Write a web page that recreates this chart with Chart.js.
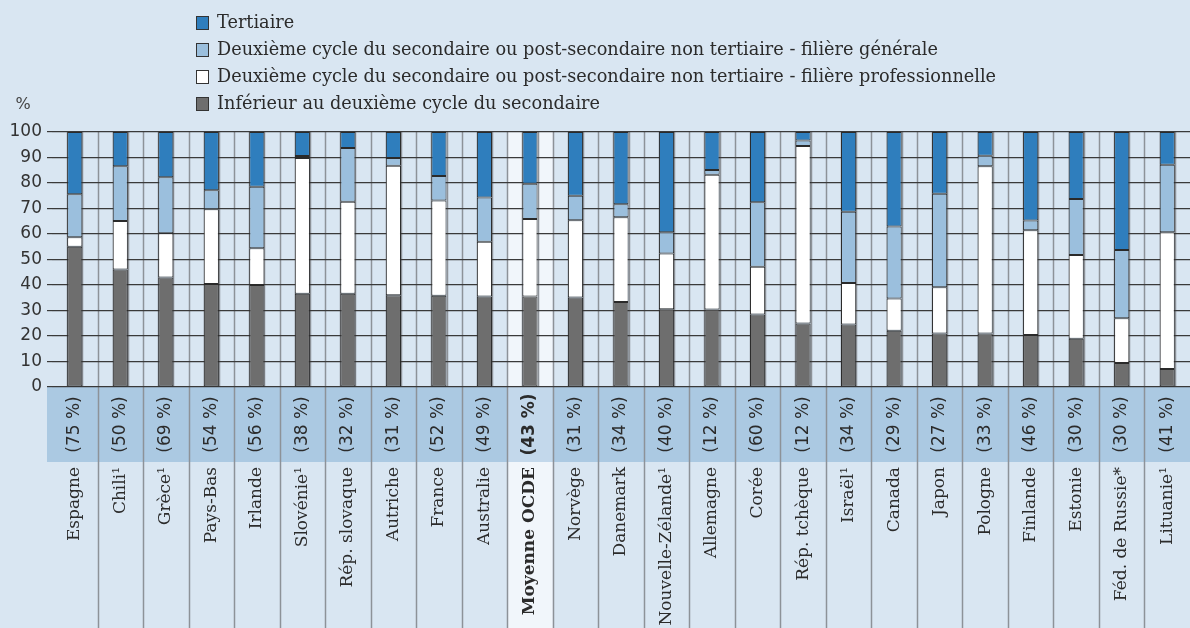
<!DOCTYPE html>
<html lang="fr">
<head>
    <meta charset="UTF-8">
    <title>Niveau de formation</title>
    <script src="https://cdn.jsdelivr.net/npm/chart.js"></script>
    <style>
        html, body {
            margin: 0;
            padding: 0;
            background: #d9e6f2;
        }
        .wrap {
            width: 1190px;
            height: 628px;
        }
    </style>
</head>
<body>
    <div class="wrap">
        <canvas id="chart" width="1190" height="628"></canvas>
    </div>

    <script>
        const countries = ['Espagne', 'Chili¹', 'Grèce¹', 'Pays-Bas', 'Irlande', 'Slovénie¹', 'Rép. slovaque', 'Autriche',
            'France', 'Australie', 'Moyenne OCDE', 'Norvège', 'Danemark', 'Nouvelle-Zélande¹', 'Allemagne', 'Corée',
            'Rép. tchèque', 'Israël¹', 'Canada', 'Japon', 'Pologne', 'Finlande', 'Estonie', 'Féd. de Russie*', 'Lituanie¹'];
        const shares = ['(75 %)', '(50 %)', '(69 %)', '(54 %)', '(56 %)', '(38 %)', '(32 %)', '(31 %)', '(52 %)', '(49 %)',
            '(43 %)', '(31 %)', '(34 %)', '(40 %)', '(12 %)', '(60 %)', '(12 %)', '(34 %)', '(29 %)', '(27 %)', '(33 %)',
            '(46 %)', '(30 %)', '(30 %)', '(41 %)'];

        // segment sizes (stacked, bottom to top)
        const lower = [55.0, 46.1, 42.9, 40.4, 40.0, 36.6, 36.6, 36.0, 35.8, 35.5, 35.5, 35.1, 33.3, 30.5, 30.4, 28.4,
            24.9, 24.5, 22.1, 21.0, 21.0, 20.4, 18.9, 9.4, 7.1];
        const vocational = [3.7, 19.0, 17.4, 29.3, 14.4, 53.2, 36.0, 50.8, 37.3, 21.5, 30.4, 30.3, 33.3, 21.9, 52.8, 18.8,
            69.6, 16.3, 12.6, 18.1, 65.6, 41.1, 32.9, 17.6, 53.6];
        const general = [16.9, 21.5, 22.0, 7.5, 24.1, 0.8, 21.1, 3.0, 9.6, 17.3, 13.8, 9.6, 5.1, 8.3, 1.9, 25.3,
            2.2, 27.9, 28.2, 36.7, 4.1, 3.8, 21.9, 26.7, 26.5];
        const tertiary = [24.4, 13.4, 17.7, 22.8, 21.5, 9.4, 6.3, 10.2, 17.3, 25.7, 20.3, 25.0, 28.3, 39.3, 14.9, 27.5,
            3.3, 31.3, 37.1, 24.2, 9.3, 34.7, 26.3, 46.3, 12.8];
        const yTicks = [0, 10, 20, 30, 40, 50, 60, 70, 80, 90, 100];

        const highlight = 10;
        const bandH = 75;

        const decor = {
            id: 'decor',
            beforeDraw(chart) {
                const { ctx, chartArea: a, scales: { x } } = chart;
                const w = x.getPixelForValue(1) - x.getPixelForValue(0);
                ctx.save();
                ctx.fillStyle = '#d9e6f2';
                ctx.fillRect(0, 0, chart.width, chart.height);

                // band with shares
                ctx.fillStyle = '#abc9e2';
                ctx.fillRect(a.left - 5, a.bottom, a.right - a.left + 5, bandH);

                // highlighted column
                const hx = x.getPixelForValue(highlight) - w / 2;
                ctx.fillStyle = '#f1f6fb';
                ctx.fillRect(hx, a.top, w, a.bottom - a.top);
                ctx.fillRect(hx, a.bottom + bandH, w, chart.height - a.bottom - bandH);
                ctx.fillStyle = '#c3d8eb';
                ctx.fillRect(hx, a.bottom, w, bandH);

                // thin vertical grid, three cells per category
                ctx.strokeStyle = '#8d9298';
                ctx.lineWidth = 1.5;
                for (let i = 0; i < countries.length; i++) {
                    const c = x.getPixelForValue(i);
                    [-w / 6, w / 6, w / 2].forEach(d => {
                        const px = Math.round(c + d) + 0.5;
                        if (px > a.right - 1) return;
                        ctx.beginPath();
                        ctx.moveTo(px, a.top);
                        ctx.lineTo(px, a.bottom);
                        ctx.stroke();
                    });
                    // separators under the axis
                    const sx = Math.round(c + w / 2) + 0.5;
                    if (sx < a.right - 1) {
                        ctx.beginPath();
                        ctx.moveTo(sx, a.bottom);
                        ctx.lineTo(sx, chart.height);
                        ctx.stroke();
                    }
                }
                ctx.restore();
            },
            afterDraw(chart) {
                const { ctx, chartArea: a, scales: { x } } = chart;
                ctx.save();
                ctx.fillStyle = '#2b2b2b';
                ctx.textBaseline = 'middle';
                countries.forEach((name, i) => {
                    const c = x.getPixelForValue(i);
                    const bold = i === highlight ? 'bold ' : '';

                    ctx.save();
                    ctx.translate(c, a.bottom + bandH / 2);
                    ctx.rotate(-Math.PI / 2);
                    ctx.textAlign = 'center';
                    ctx.font = bold + '17px "DejaVu Sans"';
                    ctx.fillText(shares[i], 0, 0);
                    ctx.restore();

                    ctx.save();
                    ctx.translate(c, a.bottom + bandH + 5);
                    ctx.rotate(-Math.PI / 2);
                    ctx.textAlign = 'right';
                    ctx.font = bold + '17px "DejaVu Serif"';
                    ctx.fillText(name, 0, 0);
                    ctx.restore();
                });

                // legend, top series first
                const items = chart.data.datasets.slice().reverse();
                ctx.font = '17.7px "DejaVu Serif"';
                ctx.textAlign = 'left';
                items.forEach((ds, i) => {
                    const cy = 23 + i * 27;
                    ctx.fillStyle = ds.backgroundColor;
                    ctx.fillRect(196, cy - 7, 13, 14);
                    ctx.strokeStyle = '#333';
                    ctx.lineWidth = 1;
                    ctx.strokeRect(196.5, cy - 6.5, 12, 13);
                    ctx.fillStyle = '#2b2b2b';
                    ctx.fillText(ds.label, 217, cy);
                });

                ctx.font = '16px "DejaVu Sans"';
                ctx.textAlign = 'center';
                ctx.fillStyle = '#444';
                ctx.fillText('%', 23, 105);
                ctx.restore();
            }
        };

        const seg = (label, data, color) => ({
            label: label,
            data: data,
            backgroundColor: color,
            borderColor: '#2a2a2a',
            borderWidth: 1,
            borderSkipped: false,
            categoryPercentage: 1,
            barPercentage: 1 / 3
        });

        new Chart(document.getElementById('chart'), {
            type: 'bar',
            data: {
                labels: countries,
                datasets: [
                    seg('Inférieur au deuxième cycle du secondaire', lower, '#6e6e6e'),
                    seg('Deuxième cycle du secondaire ou post-secondaire non tertiaire - filière professionnelle', vocational, '#ffffff'),
                    seg('Deuxième cycle du secondaire ou post-secondaire non tertiaire - filière générale', general, '#9bbfdd'),
                    seg('Tertiaire', tertiary, '#2f7ebd')
                ]
            },
            options: {
                responsive: false,
                animation: false,
                layout: {
                    padding: { top: 132, bottom: 241, left: 0, right: 0 }
                },
                plugins: {
                    legend: { display: false },
                    tooltip: { enabled: false }
                },
                scales: {
                    x: {
                        stacked: true,
                        display: false
                    },
                    y: {
                        stacked: true,
                        min: 0,
                        max: 100,
                        afterFit: s => { s.width = 52; },
                        afterBuildTicks: s => { s.ticks = yTicks.map(v => ({ value: v })); },
                        border: { display: false },
                        grid: {
                            color: '#3a3a3a',
                            lineWidth: 1.2,
                            tickLength: 5
                        },
                        ticks: {
                            padding: 5,
                            color: '#333',
                            font: { family: 'DejaVu Sans', size: 17 }
                        }
                    }
                }
            },
            plugins: [decor]
        });
    </script>
</body>
</html>
